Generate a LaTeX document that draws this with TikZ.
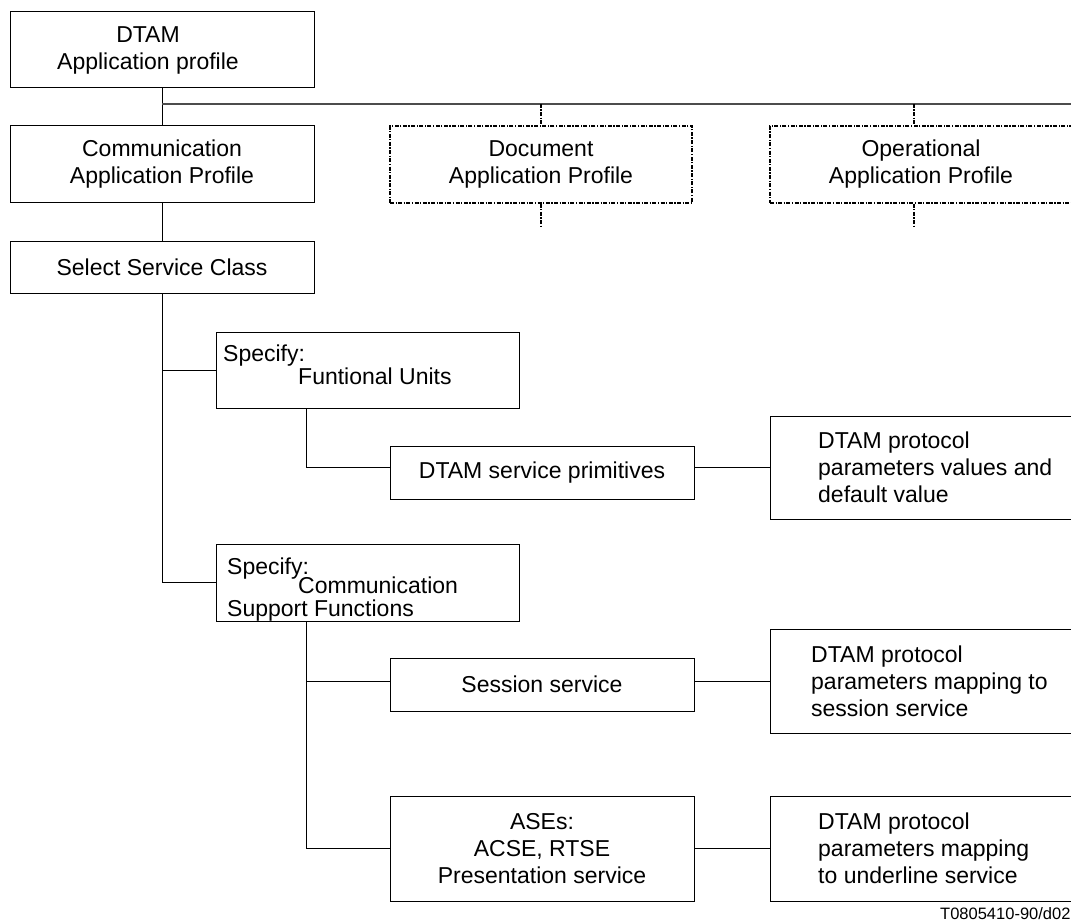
\documentclass[tikz,border=0pt]{standalone}
\usepackage{fontspec}
\setmainfont{Liberation Sans}
\begin{document}
\begin{tikzpicture}[x=1pt,y=-1pt,
  every node/.style={font=\fontsize{23}{27}\selectfont},
  box/.style={draw, line width=1pt, inner sep=0pt, align=center},
  dbox/.style={draw, line width=1.2pt, inner sep=0pt, align=center, dash pattern=on 4pt off 1.5pt on 1.2pt off 1.5pt},
  conn/.style={line width=1pt},
  dconn/.style={line width=1.2pt, dash pattern=on 4pt off 1.5pt on 1.2pt off 1.5pt},
  txt/.style={inner sep=0pt, anchor=base west},
  rtxt/.style={inner sep=0pt, anchor=west, align=left}
]
\useasboundingbox (0,0) rectangle (1071,923);
% top column
\node[box, minimum width=304pt, minimum height=76pt] (dtam) at (162,50) {};
\node[inner sep=0pt, align=center] (dtamtxt) at (148,50) {DTAM\\Application profile};
\node[box, minimum width=304pt, minimum height=76pt] (cap) at (162,164) {Communication\\Application Profile};
\node[box, minimum width=304pt, minimum height=52pt] (ssc) at (162,267) {Select Service Class};
% dotted profiles
\node[dbox, minimum width=302pt, minimum height=77pt] (doc) at (541,164.5) {Document\\Application Profile};
\node[dbox, minimum width=310pt, minimum height=77pt] (opr) at (925,164.5) {};
\node[inner sep=0pt, align=center] (oprtxt) at (921,164.5) {Operational\\Application Profile};
\coordinate (j0) at (162,104);
\coordinate (e0) at (1075,104);
\coordinate (docT) at (541,104);
\coordinate (docB) at (541,226);
\coordinate (oprT) at (914,104);
\coordinate (oprB) at (914,226);
\draw[conn] (dtam.south) -- (cap.north);
\draw[line width=1.6pt, black!70] (j0) -- (e0);
\draw[conn] (cap.south) -- (ssc.north);
\draw[dconn] (docT) -- (doc.north);
\draw[dconn] (doc.south) -- (docB);
\draw[dconn] (oprT) -- (oprT |- opr.north);
\draw[dconn] (oprT |- opr.south) -- (oprB);
% specify boxes
\node[box, minimum width=303pt, minimum height=76pt] (sfu) at (367.5,370) {};
\node[txt] (sfu1) at (223,361) {Specify:};
\node[txt] (sfu2) at (298,384) {Funtional Units};
\node[box, minimum width=303pt, minimum height=77pt] (scf) at (367.5,582.5) {};
\node[txt] (scf1) at (227,574) {Specify:};
\node[txt] (scf2) at (298,593) {Communication};
\node[txt] (scf3) at (227,616) {Support Functions};
\draw[conn] (ssc.south) -- (ssc.south |- scf.west) -- (scf.west);
\draw[conn] (ssc.south |- sfu.west) -- (sfu.west);
% functional units branch
\node[box, minimum width=304pt, minimum height=53pt] (dsp) at (542,472.5) {DTAM service primitives};
\node[box, minimum width=310pt, minimum height=103pt] (r1) at (925,467.5) {};
\node[rtxt] (r1t) at (818,467.5) {DTAM protocol\\parameters values and\\default value};
\coordinate (b1) at (306,408);
\draw[conn] (b1) |- (dsp.west |- r1.west);
\draw[conn] (dsp.east |- r1.west) -- (r1.west);
% communication support branch
\node[box, minimum width=304pt, minimum height=53pt] (ses) at (542,684.5) {Session service};
\node[box, minimum width=310pt, minimum height=104pt] (r2) at (925,681) {};
\node[rtxt] (r2t) at (811,681) {DTAM protocol\\parameters mapping to\\session service};
\node[box, minimum width=304pt, minimum height=105pt] (ase) at (542,848.5) {ASEs:\\ACSE, RTSE\\Presentation service};
\node[box, minimum width=310pt, minimum height=105pt] (r3) at (925,848.5) {};
\node[rtxt] (r3t) at (818,848.5) {DTAM protocol\\parameters mapping\\to underline service};
\coordinate (b2) at (306,621);
\draw[conn] (b2) |- (ses.west |- r2.west);
\draw[conn] (ses.east |- r2.west) -- (r2.west);
\draw[conn] (b2) |- (ase.west);
\draw[conn] (ase.east) -- (r3.west);
% label
\node[txt, font=\fontsize{16.5}{19}\selectfont] (lbl) at (940,919) {T0805410-90/d02};
\end{tikzpicture}
\end{document}
